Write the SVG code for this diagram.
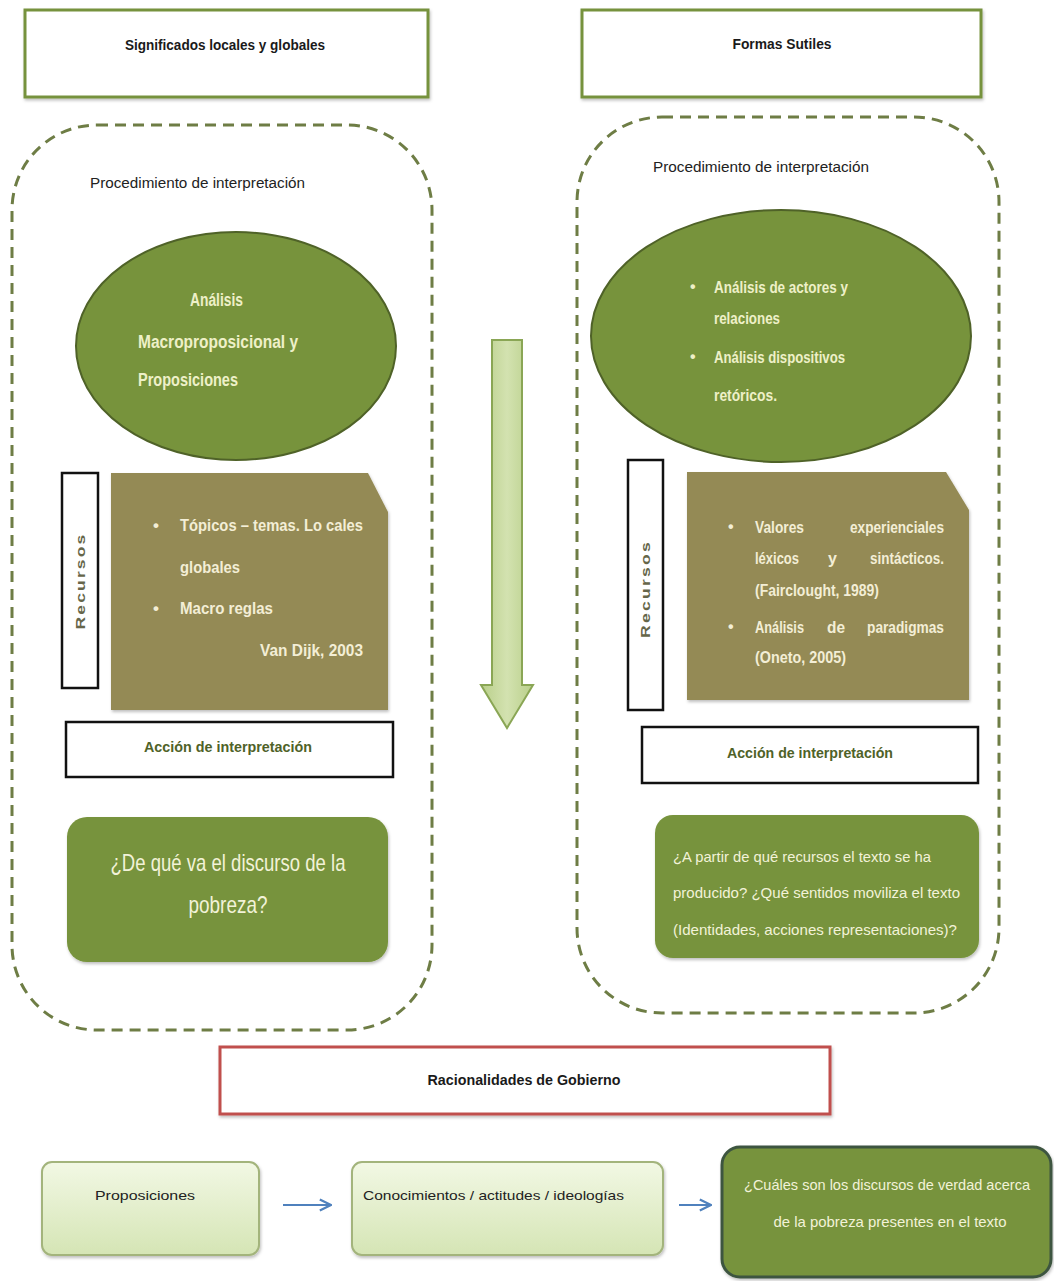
<svg xmlns="http://www.w3.org/2000/svg" width="1054" height="1281" viewBox="0 0 1054 1281">
<style>
  text { font-family: "Liberation Sans", Arial, sans-serif; }
  .title { font-size: 14px; font-weight: bold; fill: #1a1a1a; }
  .proc { font-size: 14px; fill: #222; }
  .ell { font-size: 18px; font-weight: bold; fill: #EEF0C8; }
  .ellr { font-size: 16px; font-weight: bold; fill: #EEF0C8; }
  .brown { font-size: 17px; font-weight: bold; fill: #F3EED6; }
  .brownr { font-size: 16px; font-weight: bold; fill: #F3EED6; }
  .rec { font-size: 12px; font-weight: bold; fill: #66664A; letter-spacing: 1.5px; }
  .accion { font-size: 14px; font-weight: bold; fill: #4F6228; }
  .q { fill: #F2F2D8; }
  .small { font-size: 13px; fill: #222; }
  .headbox { fill: #fff; stroke: #76923C; stroke-width: 3; }
  .dash { fill: none; stroke: #6E7D45; stroke-width: 3; stroke-dasharray: 11 7; }
  .oval { fill: #77933C; stroke: #4F6228; stroke-width: 2; }
  .brownbox { fill: #948A54; }
  .blackbox { fill: #fff; stroke: #111; stroke-width: 2.5; }
  .greenbox { fill: #77933C; }
  .lightbox { fill: url(#lg); stroke: #A3B47C; stroke-width: 2; }
  .conn { stroke: #4F81BD; stroke-width: 2; fill: none; }
</style>
<defs>
  <linearGradient id="lg" x1="0" y1="0" x2="0" y2="1">
    <stop offset="0" stop-color="#F2F8E4"/>
    <stop offset="1" stop-color="#D5E5B5"/>
  </linearGradient>
  <linearGradient id="ag" x1="0" y1="0" x2="1" y2="0">
    <stop offset="0" stop-color="#B9CF8A"/>
    <stop offset="0.5" stop-color="#D3E2B0"/>
    <stop offset="1" stop-color="#B9CF8A"/>
  </linearGradient>
  <filter id="sh" x="-10%" y="-10%" width="120%" height="130%">
    <feDropShadow dx="1" dy="2" stdDeviation="1.5" flood-color="#000" flood-opacity="0.25"/>
  </filter>
  <marker id="ah" viewBox="0 0 10 10" refX="9" refY="5" markerWidth="7" markerHeight="7" orient="auto">
    <path d="M1,1 L9,5 L1,9" fill="none" stroke="#4F81BD" stroke-width="1.6"/>
  </marker>
</defs>
<rect width="1054" height="1281" fill="#fff"/>

<g id="header-left">
  <rect class="headbox" x="25" y="10" width="403" height="87" filter="url(#sh)"/>
  <text class="title" x="225" y="50" text-anchor="middle" textLength="200" lengthAdjust="spacingAndGlyphs">Significados locales y globales</text>
</g>
<g id="header-right">
  <rect class="headbox" x="582" y="10" width="399" height="87" filter="url(#sh)"/>
  <text class="title" x="782" y="49" text-anchor="middle" textLength="99" lengthAdjust="spacingAndGlyphs">Formas Sutiles</text>
</g>

<g id="panel-left">
  <rect class="dash" x="12" y="125" width="420" height="905" rx="85" ry="85"/>
  <text class="proc" x="90" y="188" textLength="215" lengthAdjust="spacingAndGlyphs">Procedimiento de interpretación</text>
</g>
<g id="panel-right">
  <rect class="dash" x="577" y="117" width="422" height="896" rx="85" ry="85"/>
  <text class="proc" x="653" y="172" textLength="216" lengthAdjust="spacingAndGlyphs">Procedimiento de interpretación</text>
</g>

<g id="oval-left">
  <ellipse class="oval" cx="236" cy="346" rx="160" ry="114"/>
  <text class="ell" x="190" y="306" textLength="53" lengthAdjust="spacingAndGlyphs">Análisis</text>
  <text class="ell" x="138" y="348" textLength="160" lengthAdjust="spacingAndGlyphs">Macroproposicional  y</text>
  <text class="ell" x="138" y="386" textLength="100" lengthAdjust="spacingAndGlyphs">Proposiciones</text>
</g>
<g id="oval-right">
  <ellipse class="oval" cx="781" cy="336" rx="190" ry="126"/>
  <text class="ellr" x="690" y="292">•</text>
  <text class="ellr" x="714" y="293" textLength="134" lengthAdjust="spacingAndGlyphs">Análisis de actores y</text>
  <text class="ellr" x="714" y="324" textLength="66" lengthAdjust="spacingAndGlyphs">relaciones</text>
  <text class="ellr" x="690" y="362">•</text>
  <text class="ellr" x="714" y="363" textLength="131" lengthAdjust="spacingAndGlyphs">Análisis dispositivos</text>
  <text class="ellr" x="714" y="401" textLength="63" lengthAdjust="spacingAndGlyphs">retóricos.</text>
</g>

<g id="recursos-left">
  <rect class="blackbox" x="62" y="473" width="36" height="215"/>
  <text class="rec" transform="translate(85,581) rotate(-90)" text-anchor="middle" textLength="97" lengthAdjust="spacingAndGlyphs">Recursos</text>
</g>
<g id="resources-left">
  <path class="brownbox" d="M111,473 H368 L388,512 V710 H111 Z" filter="url(#sh)"/>
  <text class="brown" x="153" y="531">•</text>
  <text class="brown" x="180" y="531" textLength="183" lengthAdjust="spacingAndGlyphs">Tópicos – temas. Lo cales</text>
  <text class="brown" x="180" y="573" textLength="60" lengthAdjust="spacingAndGlyphs">globales</text>
  <text class="brown" x="153" y="614">•</text>
  <text class="brown" x="180" y="614" textLength="93" lengthAdjust="spacingAndGlyphs">Macro reglas</text>
  <text class="brown" x="260" y="656" textLength="103" lengthAdjust="spacingAndGlyphs">Van Dijk, 2003</text>
</g>

<g id="recursos-right">
  <rect class="blackbox" x="628" y="460" width="35" height="250"/>
  <text class="rec" transform="translate(650,589) rotate(-90)" text-anchor="middle" textLength="98" lengthAdjust="spacingAndGlyphs">Recursos</text>
</g>
<g id="resources-right">
  <path class="brownbox" d="M687,472 H946 L969,510 V700 H687 Z" filter="url(#sh)"/>
  <text class="brownr" x="728" y="532">•</text>
  <text class="brownr" x="755" y="533" textLength="49" lengthAdjust="spacingAndGlyphs">Valores</text>
  <text class="brownr" x="944" y="533" text-anchor="end" textLength="94" lengthAdjust="spacingAndGlyphs">experienciales</text>
  <text class="brownr" x="755" y="564" textLength="44" lengthAdjust="spacingAndGlyphs">léxicos</text>
  <text class="brownr" x="828" y="564">y</text>
  <text class="brownr" x="944" y="564" text-anchor="end" textLength="74" lengthAdjust="spacingAndGlyphs">sintácticos.</text>
  <text class="brownr" x="755" y="596" textLength="124" lengthAdjust="spacingAndGlyphs">(Fairclought, 1989)</text>
  <text class="brownr" x="728" y="632">•</text>
  <text class="brownr" x="755" y="633" textLength="49" lengthAdjust="spacingAndGlyphs">Análisis</text>
  <text class="brownr" x="827" y="633" textLength="18" lengthAdjust="spacingAndGlyphs">de</text>
  <text class="brownr" x="944" y="633" text-anchor="end" textLength="77" lengthAdjust="spacingAndGlyphs">paradigmas</text>
  <text class="brownr" x="755" y="663" textLength="91" lengthAdjust="spacingAndGlyphs">(Oneto, 2005)</text>
</g>

<g id="accion-left">
  <rect class="blackbox" x="66" y="722" width="327" height="55"/>
  <text class="accion" x="228" y="752" text-anchor="middle" textLength="168" lengthAdjust="spacingAndGlyphs">Acción de interpretación</text>
</g>
<g id="accion-right">
  <rect class="blackbox" x="642" y="727" width="336" height="56"/>
  <text class="accion" x="810" y="758" text-anchor="middle" textLength="166" lengthAdjust="spacingAndGlyphs">Acción de interpretación</text>
</g>

<g id="question-left">
  <rect class="greenbox" x="67" y="817" width="321" height="145" rx="20" ry="20" filter="url(#sh)"/>
  <text class="q" x="228" y="871" text-anchor="middle" font-size="24" textLength="235" lengthAdjust="spacingAndGlyphs">¿De qué va el discurso de la</text>
  <text class="q" x="228" y="913" text-anchor="middle" font-size="24" textLength="79" lengthAdjust="spacingAndGlyphs">pobreza?</text>
</g>
<g id="question-right">
  <rect class="greenbox" x="655" y="815" width="324" height="143" rx="18" ry="18" filter="url(#sh)"/>
  <text class="q" x="673" y="862" font-size="15" textLength="258" lengthAdjust="spacingAndGlyphs">¿A partir de qué recursos el texto se ha</text>
  <text class="q" x="673" y="898" font-size="15" textLength="287" lengthAdjust="spacingAndGlyphs">producido? ¿Qué sentidos moviliza el texto</text>
  <text class="q" x="673" y="935" font-size="15" textLength="284" lengthAdjust="spacingAndGlyphs">(Identidades, acciones representaciones)?</text>
</g>

<g id="big-arrow">
  <path d="M492,340 H522 V685 H533 L507,728 L481,685 H492 Z" fill="url(#ag)" stroke="#8AA655" stroke-width="2"/>
</g>

<g id="racionalidades">
  <rect x="220" y="1047" width="610" height="67" fill="#fff" stroke="#C0504D" stroke-width="3" filter="url(#sh)"/>
  <text class="title" x="524" y="1085" text-anchor="middle" font-size="13" textLength="193" lengthAdjust="spacingAndGlyphs">Racionalidades de Gobierno</text>
</g>

<g id="proposiciones">
  <rect class="lightbox" x="42" y="1162" width="217" height="93" rx="10" ry="10" filter="url(#sh)"/>
  <text class="small" x="95" y="1200" textLength="100" lengthAdjust="spacingAndGlyphs">Proposiciones</text>
</g>
<g id="conocimientos">
  <rect class="lightbox" x="352" y="1162" width="311" height="93" rx="10" ry="10" filter="url(#sh)"/>
  <text class="small" x="363" y="1200" textLength="261" lengthAdjust="spacingAndGlyphs">Conocimientos / actitudes / ideologías</text>
</g>
<g id="verdad">
  <rect x="722" y="1147" width="329" height="130" rx="18" ry="18" fill="#77933C" stroke="#3E5540" stroke-width="3" filter="url(#sh)"/>
  <text class="q" x="887" y="1190" text-anchor="middle" font-size="15" textLength="286" lengthAdjust="spacingAndGlyphs">¿Cuáles son los discursos de verdad acerca</text>
  <text class="q" x="890" y="1227" text-anchor="middle" font-size="15" textLength="233" lengthAdjust="spacingAndGlyphs">de la pobreza presentes en el texto</text>
</g>

<g id="connectors">
  <line class="conn" x1="283" y1="1205" x2="331" y2="1205" marker-end="url(#ah)"/>
  <line class="conn" x1="679" y1="1205" x2="711" y2="1205" marker-end="url(#ah)"/>
</g>
</svg>
